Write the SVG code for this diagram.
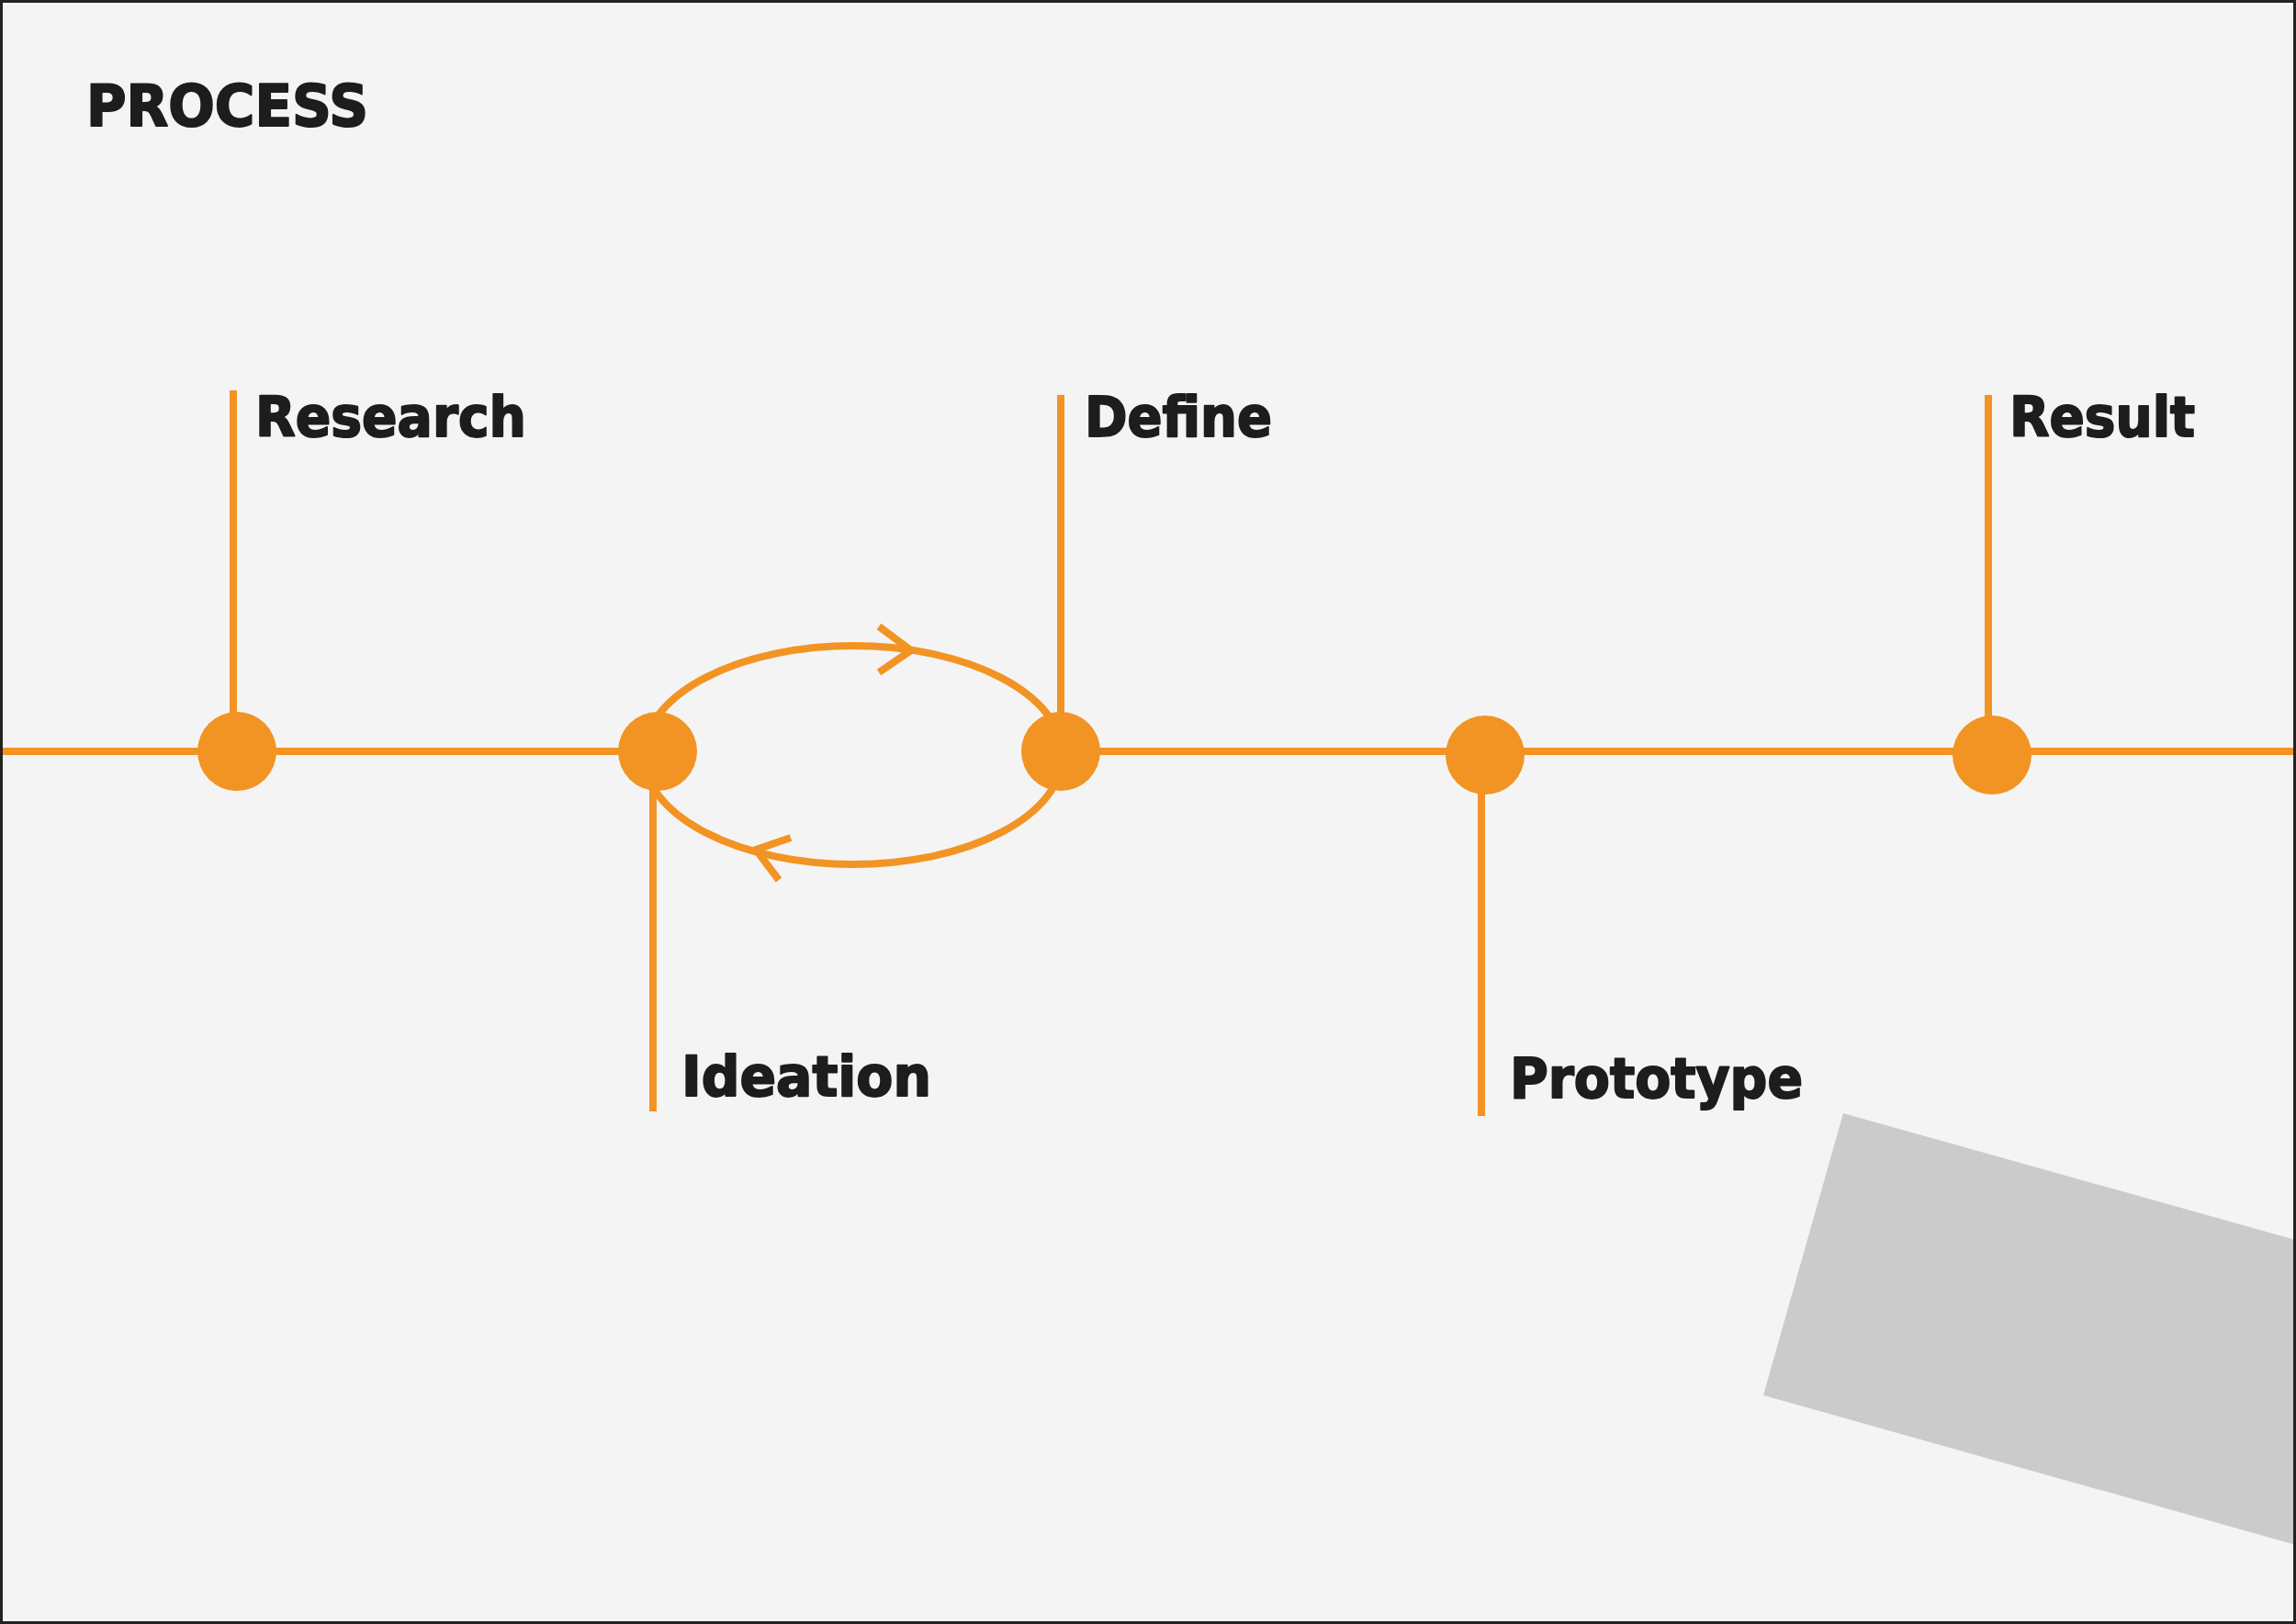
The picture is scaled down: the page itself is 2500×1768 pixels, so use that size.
<svg xmlns="http://www.w3.org/2000/svg" width="2500" height="1768" viewBox="0 0 2500 1768">
<style>
.ln{stroke:#F29423;stroke-width:8;fill:none;stroke-linecap:butt}
.dot{fill:#F29423}
.lbl{font-family:"DejaVu Sans","Verdana",sans-serif;font-weight:bold;fill:#1d1d1d;stroke:#1d1d1d;stroke-width:2;stroke-linejoin:round}
</style>
<rect x="0" y="0" width="2500" height="1768" fill="#f4f4f4"/>
<polygon points="2007,1212 2500,1350 2500,1682 1920,1519" fill="#cbcbcb"/>
<text class="lbl" x="94" y="137" font-size="63" textLength="307" lengthAdjust="spacingAndGlyphs">PROCESS</text>
<g id="connectors">
<line class="ln" x1="0" y1="818" x2="716" y2="818"/>
<line class="ln" x1="1155" y1="818" x2="2500" y2="818"/>
<line class="ln" x1="254" y1="425" x2="254" y2="818"/>
<line class="ln" x1="711" y1="818" x2="711" y2="1210"/>
<line class="ln" x1="1155" y1="430" x2="1155" y2="818"/>
<line class="ln" x1="1613" y1="822" x2="1613" y2="1215"/>
<line class="ln" x1="2165" y1="430" x2="2165" y2="822"/>
<ellipse class="ln" cx="929" cy="822" rx="228" ry="119"/>
<polyline class="ln" points="957,682 992,708 957,732"/>
<polyline class="ln" points="861,912 823,925 848,958"/>
</g>
<g id="research"><circle class="dot" cx="258" cy="818" r="43"/><text class="lbl" x="278" y="475" font-size="60" textLength="295" lengthAdjust="spacingAndGlyphs">Research</text></g>
<g id="ideation"><circle class="dot" cx="716" cy="818" r="43"/><text class="lbl" x="742" y="1193" font-size="60" textLength="272" lengthAdjust="spacingAndGlyphs">Ideation</text></g>
<g id="define"><circle class="dot" cx="1155" cy="818" r="43"/><text class="lbl" x="1181" y="475" font-size="60" textLength="204" lengthAdjust="spacingAndGlyphs">Define</text></g>
<g id="prototype"><circle class="dot" cx="1617" cy="822" r="43"/><text class="lbl" x="1644" y="1195" font-size="60" textLength="319" lengthAdjust="spacingAndGlyphs">Prototype</text></g>
<g id="result"><circle class="dot" cx="2169" cy="822" r="43"/><text class="lbl" x="2188" y="475" font-size="60" textLength="202" lengthAdjust="spacingAndGlyphs">Result</text></g>
<rect x="1.5" y="1.5" width="2497" height="1765" fill="none" stroke="#222" stroke-width="3"/>
</svg>
